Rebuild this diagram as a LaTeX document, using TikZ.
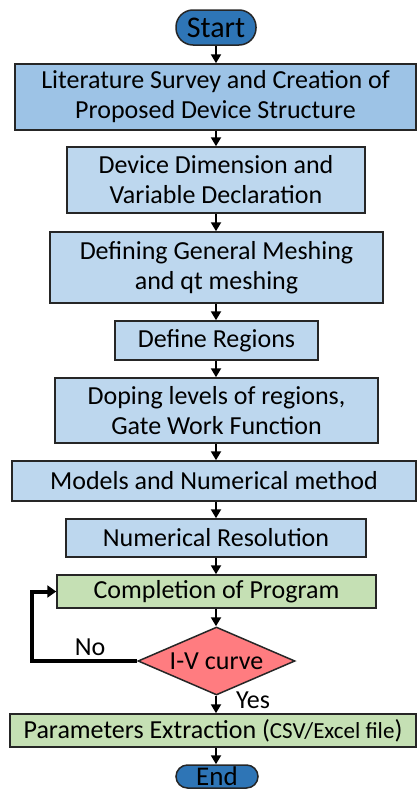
\documentclass[tikz,border=0pt]{standalone}
\usepackage{fontspec}
\setmainfont{Carlito}
\usepackage{color}
\usetikzlibrary{arrows.meta,shapes.geometric}
\definecolor{termblue}{HTML}{2E75B6}
\definecolor{stepblue}{HTML}{BDD7EE}
\definecolor{firstblue}{HTML}{9DC3E6}
\definecolor{stepgreen}{HTML}{C5E0B4}
\definecolor{testred}{HTML}{FF7C80}
\newcommand*{\xMid}{216}
\newcommand*{\xMax}{417}
\newcommand*{\yMax}{790}
\newcommand*{\bigtext}{\fontsize{26}{30}\selectfont}
\tikzset{
  stepbox/.style={draw=black!85,line width=1.5pt,fill=stepblue,align=center,
    inner sep=0pt,font=\bigtext},
  termbox/.style={draw=black!85,line width=1.5pt,fill=termblue,rounded corners=17pt,
    inner sep=0pt,font=\fontsize{30}{30}\selectfont},
  arr/.style={line width=2pt,-{Triangle[width=10pt,length=9pt]}},
}

\begin{document}
\begin{tikzpicture}[x=1pt,y=-1pt]
	\useasboundingbox (0,0) rectangle (\xMax,\yMax);

	\node[termbox,minimum width=80pt,minimum height=35pt] (start) at (\xMid,27.5) {Start};
	\node[stepbox,fill=firstblue,minimum width=401pt,minimum height=66pt] (survey) at (215.5,97)
	    {Literature Survey and Creation of\\Proposed Device Structure};
	\node[stepbox,minimum width=298pt,minimum height=66pt] (dim) at (\xMid,180)
	    {Device Dimension and\\Variable Declaration};
	\node[stepbox,minimum width=333pt,minimum height=71pt] (mesh) at (216.5,267.5)
	    {Defining General Meshing\\and qt meshing};
	\node[stepbox,minimum width=203pt,minimum height=39pt] (regions) at (216.5,340.5) {Define Regions};
	\node[stepbox,minimum width=323pt,minimum height=65pt] (doping) at (216.5,410.5)
	    {Doping levels of regions,\\Gate Work Function};
	\node[stepbox,minimum width=404pt,minimum height=40pt] (models) at (214,481) {Models and Numerical method};
	\node[stepbox,minimum width=300pt,minimum height=38pt] (resol) at (\xMid,538) {Numerical Resolution};
	\node[stepbox,fill=stepgreen,minimum width=319pt,minimum height=33pt] (compl) at (216.5,591.5)
	    {Completion of Program};
	\node[diamond,draw=black!85,line width=1.5pt,fill=testred,inner sep=0pt,aspect=2.3,
	    minimum width=157pt,minimum height=68pt,font=\bigtext] (iv) at (216.5,661) {I-V curve};
	\node[stepbox,fill=stepgreen,minimum width=406pt,minimum height=33pt] (extract) at (213,730.5)
	    {Parameters Extraction (\fontsize{23}{26}\selectfont CSV/Excel file\bigtext)};
	\node[termbox,minimum width=82pt,minimum height=23pt,rounded corners=11.5pt,
	    font=\fontsize{27}{30}\selectfont] (end) at (217,776.5) {End};

	\foreach \a/\b in {start/survey,survey/dim,dim/mesh,mesh/regions,regions/doping,
	    doping/models,models/resol,resol/compl,compl/iv,iv/extract,extract/end} {
	    \draw[arr] (\a.south -| \xMid,0) -- (\b.north -| \xMid,0);
	}

	\coordinate (loop) at (32,661);
	\draw[line width=4pt,-{Triangle[width=12pt,length=9pt]}] (iv.west) -- (loop) |- (compl.west);
	\node[font=\bigtext] (no) at (90,647) {No};
	\node[font=\bigtext] (yes) at (253,700) {Yes};
\end{tikzpicture}
\end{document}
